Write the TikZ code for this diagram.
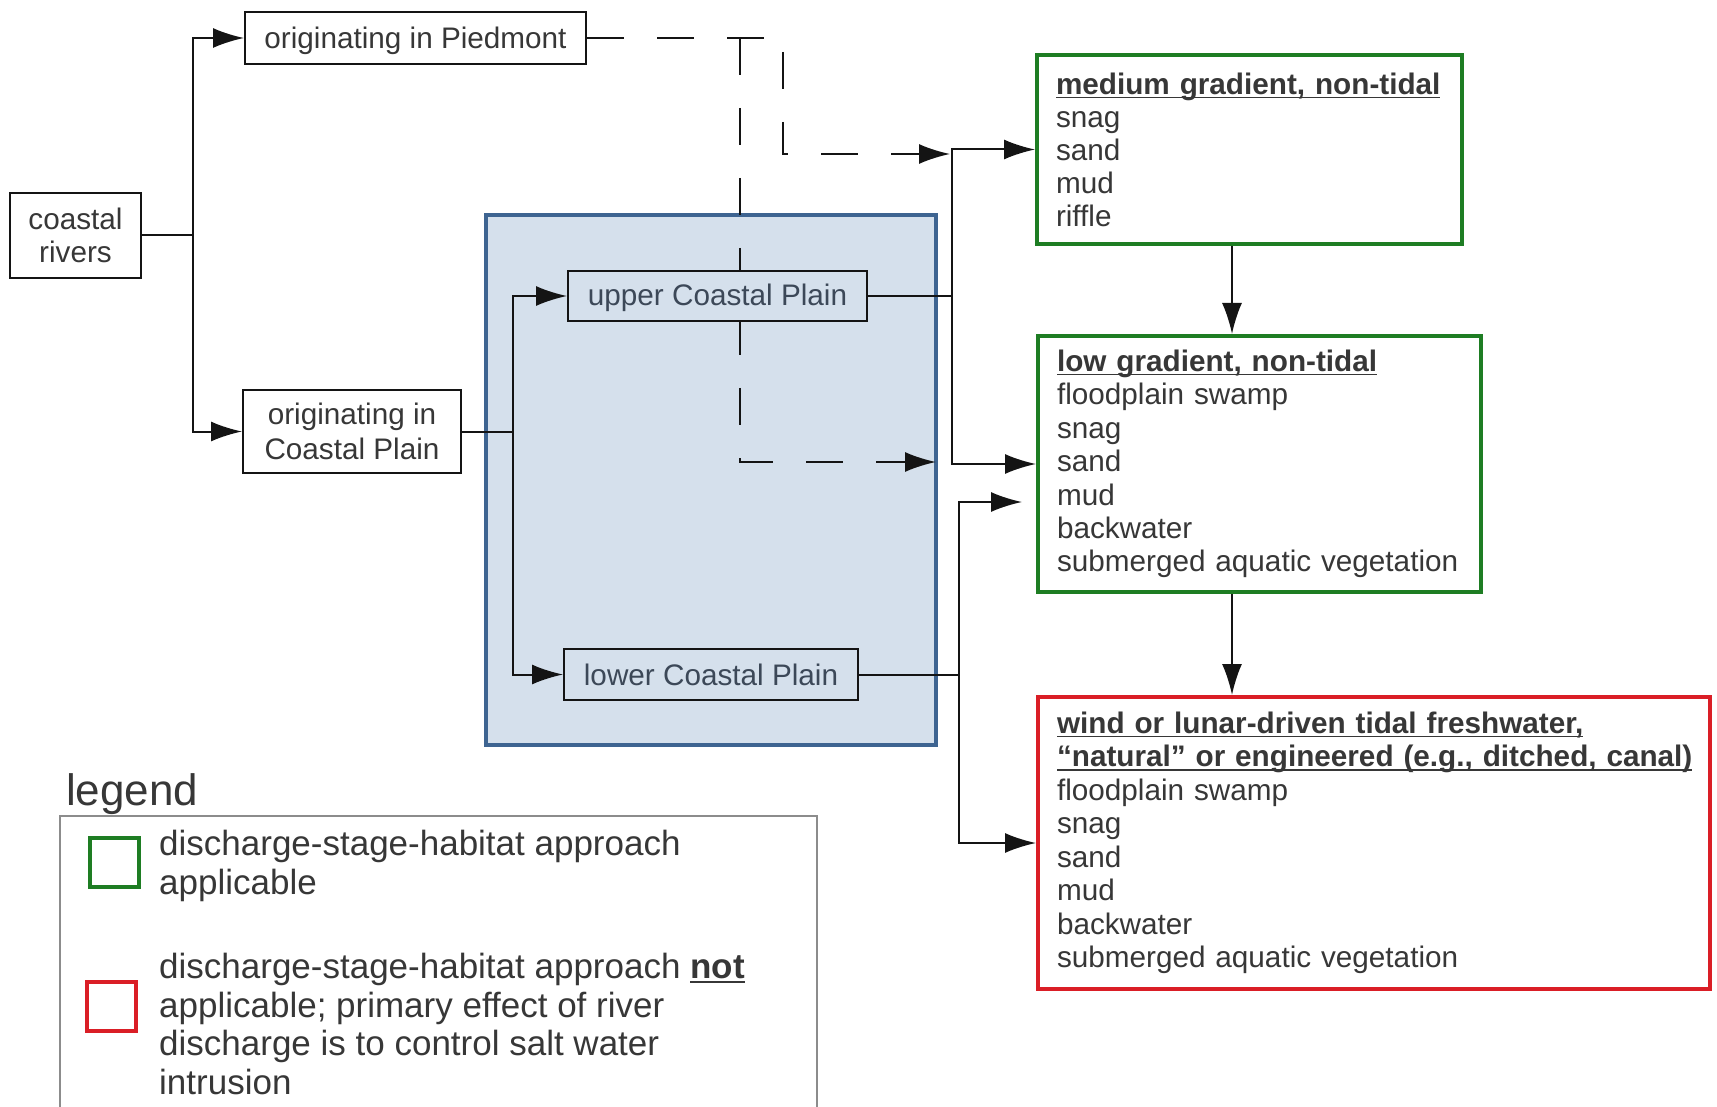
\documentclass[tikz,border=0pt]{standalone}
\usepackage{fontspec}
\setmainfont{Liberation Sans}
\usetikzlibrary{arrows.meta,backgrounds}
\definecolor{txt}{RGB}{55,55,55}
\definecolor{ln}{RGB}{20,20,20}
\definecolor{grn}{RGB}{30,125,35}
\definecolor{rd}{RGB}{218,30,38}
\definecolor{bfill}{RGB}{213,224,236}
\definecolor{bdraw}{RGB}{62,100,145}
\definecolor{btxt}{RGB}{60,72,88}
\definecolor{lgray}{RGB}{140,140,140}
\newsavebox{\ulsave}
\newcommand\myul[1]{\sbox{\ulsave}{#1}\rlap{\rule[-4pt]{\wd\ulsave}{1.6pt}}\usebox{\ulsave}}
\begin{document}
\begin{tikzpicture}[x=1pt,y=-1pt,
  base/.style={inner sep=0pt, text=txt, font=\fontsize{29.7pt}{33pt}\selectfont},
  plainbox/.style={base, draw=ln, line width=2pt, align=center},
  habbox/.style={base, line width=4pt, align=left, inner xsep=19pt, inner ysep=0pt, fill=white},
  conn/.style={draw=ln, line width=2pt},
  arr/.style={conn, -{Latex[length=31pt,width=20pt]}},
  darr/.style={arr, dash pattern=on 37pt off 33pt},
  legtext/.style={inner sep=0pt, text=txt, align=left, anchor=west, font=\fontsize{35pt}{38.5pt}\selectfont},
]
\useasboundingbox (0,0) rectangle (1717,1107);

% left boxes
\node[plainbox, minimum width=131pt, minimum height=85pt] (cr) at (75.5,235.5) {coastal\\rivers};
\node[plainbox, minimum width=341pt, minimum height=52pt, text height=24pt, text depth=2pt] (pied) at (415.5,38) {originating in Piedmont};
\node[plainbox, minimum width=218pt, minimum height=83pt, font=\fontsize{29.7pt}{35pt}\selectfont] (cp) at (352,431.5) {originating in\\Coastal Plain};

% inner boxes in blue region
\node[plainbox, fill=bfill, text=btxt, minimum width=299pt, minimum height=50pt, text height=23pt, text depth=3pt] (ucp) at (717.5,296) {upper Coastal Plain};
\node[plainbox, fill=bfill, text=btxt, minimum width=294pt, minimum height=51pt] (lcp) at (711,674.5) {lower Coastal Plain};

% habitat boxes
\node[habbox, draw=grn, text width=387pt, minimum height=189pt] (med) at (1249.5,149.5)
  {\textbf{\myul{medium gradient, non-tidal}}\\snag\\sand\\mud\\riffle};
\node[habbox, draw=grn, text width=405pt, minimum height=256pt, font=\fontsize{29.7pt}{33.4pt}\selectfont] (low) at (1259.5,464)
  {\textbf{\myul{low gradient, non-tidal}}\\floodplain swamp\\snag\\sand\\mud\\backwater\\\mbox{submerged aquatic vegetation}};
\node[habbox, draw=rd, text width=634pt, minimum height=292pt, font=\fontsize{29.7pt}{33.5pt}\selectfont] (red) at (1374,843)
  {\textbf{\myul{wind or lunar-driven tidal freshwater,}}\\\textbf{\myul{“natural” or engineered (e.g., ditched, canal)}}\\floodplain swamp\\snag\\sand\\mud\\backwater\\\mbox{submerged aquatic vegetation}};

% junction coordinates
\coordinate (j1) at (193,235.5);
\coordinate (j2) at (513,431.5);
\coordinate (j3) at (952,296);
\coordinate (j4) at (959,674.5);
\coordinate (vx) at (1232,0);

% solid connectors
\draw[conn] (cr.east) -- (j1);
\draw[arr] (j1) |- (pied.west);
\draw[arr] (j1) |- (cp.west);
\draw[conn] (cp.east) -- (j2);
\draw[arr] (j2) |- (ucp.west);
\draw[arr] (j2) |- (lcp.west);
\draw[conn] (ucp.east) -- (j3);
\draw[arr] (j3) |- (med.west);
\draw[arr] (j3) |- (low.west);
\draw[conn] (lcp.east) -- (j4);
\draw[arr, shorten >=14pt] (j4) |- ([yshift=-38pt]low.west);
\draw[arr] (j4) |- (red.west);
\draw[arr] (med.south -| vx) -- (low.north -| vx);
\draw[arr] (low.south -| vx) -- (red.north -| vx);

% legend
\node[inner sep=0pt, text=txt, anchor=west, font=\fontsize{44pt}{48pt}\selectfont] (legtitle) at (66,794) {legend};
\node[draw=lgray, line width=2pt, minimum width=757pt, minimum height=330pt, inner sep=0pt] (legbox) at (438.5,981) {};
\node[draw=grn, line width=4pt, minimum size=49pt, inner sep=0pt] (gsq) at (114.5,862.5) {};
\node[draw=rd, line width=4pt, minimum size=49pt, inner sep=0pt] (rsq) at (111.5,1006.5) {};
\node[legtext] (gtxt) at (159,866) {discharge-stage-habitat approach\\applicable};
\node[legtext] (rtxt) at (159,1024) {discharge-stage-habitat approach \textbf{\myul{not}}\\applicable; primary effect of river\\discharge is to control salt water\\intrusion};

% background: blue region and dashed connectors
\begin{pgfonlayer}{background}
\node[draw=bdraw, fill=bfill, line width=4.5pt, minimum width=450pt, minimum height=530pt, inner sep=0pt] (blue) at (711,480) {};
\coordinate (dT) at (740,38);
\coordinate (dR) at (783,154);
\coordinate (dE1) at (950,154);
\coordinate (dL) at (740,462);
\coordinate (dE2) at (936,462);
\draw[darr] (pied.east) -| (dR) -- (dE1);
\draw[darr] (dT) -- (dL) -- (dE2);
\end{pgfonlayer}
\end{tikzpicture}
\end{document}
